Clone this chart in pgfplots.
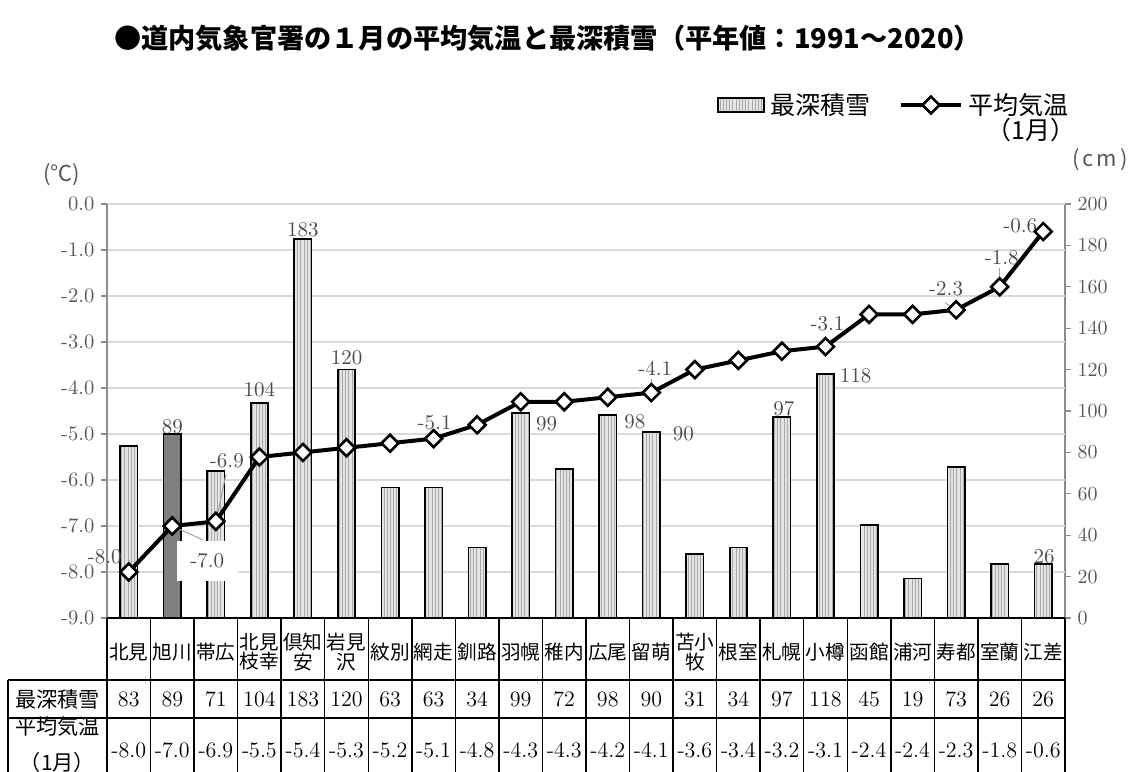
\documentclass[border=0pt]{standalone}
\usepackage{pgfplots}
\pgfplotsset{compat=1.18}
\usepackage{pgfplotstable}
\usetikzlibrary{patterns.meta}
\usepackage{fontspec}
\newfontfamily\jp{Noto Sans CJK JP}
\definecolor{gridc}{HTML}{D9D9D9}
\definecolor{axgray}{HTML}{8C8C8C}
\definecolor{txtgray}{HTML}{595959}
\definecolor{labgray}{HTML}{4D4D4D}
\definecolor{barfill}{HTML}{E4E4E4}
\definecolor{stripe}{HTML}{A8A8A8}
\definecolor{darkbar}{HTML}{7F7F7F}
\definecolor{leader}{HTML}{A0A0A0}

\pgfplotstableread{
x snow temp
0 83 -8.0
1 89 -7.0
2 71 -6.9
3 104 -5.5
4 183 -5.4
5 120 -5.3
6 63 -5.2
7 63 -5.1
8 34 -4.8
9 99 -4.3
10 72 -4.3
11 98 -4.2
12 90 -4.1
13 31 -3.6
14 34 -3.4
15 97 -3.2
16 118 -3.1
17 45 -2.4
18 19 -2.4
19 73 -2.3
20 26 -1.8
21 26 -0.6
}\data

\tikzset{
 barstyle/.style={preaction={fill=barfill}, pattern={Lines[angle=90,distance=1.6pt,line width=0.5pt]}, pattern color=stripe, draw=black, line width=0.8pt},
 lab/.style={font=\fontsize{10.5}{12}\selectfont, text=labgray, inner sep=0pt},
 ld/.style={draw=leader, line width=0.5pt},
}
\pgfplotsset{
 barlegend/.style={legend image code/.code={\draw[barstyle] (0pt,-3.5pt) rectangle (23pt,3.5pt);}},
 linelegend/.style={legend image code/.code={\draw[##1, mark repeat=2, mark phase=2] plot coordinates {(0pt,0pt)(15pt,0pt)(30pt,0pt)};}},
}

\begin{document}
\begin{tikzpicture}
\path[use as bounding box] (-53.5pt,-76.5pt) rectangle (511pt,309pt);
% ---------- snow depth (right axis) ----------
\begin{axis}[
 scale only axis, width=479pt, height=207pt,
 xmin=-0.5, xmax=21.5, ymin=0, ymax=200,
 hide x axis,
 axis y line*=right,
 y axis line style={draw=axgray, line width=0.6pt},
 ytick={0,20,...,200},
 tick align=outside, major tick length=2.8pt,
 ytick style={draw=axgray, line width=0.6pt},
 yticklabel style={font=\fontsize{10.3}{12}\selectfont, text=txtgray},
 extra y ticks={22.222,44.444,66.667,88.889,111.111,133.333,155.556,177.778,200},
 extra y tick labels={},
 extra y tick style={grid=major, major grid style={draw=gridc, line width=0.75pt}, major tick length=0pt},
 clip=false,
]
\addplot[ybar, bar width=0.4, bar shift=0pt, barstyle] table[x=x,y=snow]{\data};
\addplot[ybar, bar width=0.4, bar shift=0pt, fill=darkbar, draw=black, line width=0.8pt] coordinates {(1,89)};
\node[lab, yshift=3.5pt] at (axis cs:1,89) {89};
\node[lab, yshift=6.5pt] at (axis cs:3,104) {104};
\node[lab, yshift=4.5pt] at (axis cs:4,183) {183};
\node[lab, yshift=6pt] at (axis cs:5,120) {120};
\node[lab, xshift=13pt, yshift=-5.5pt] at (axis cs:9,99) {99};
\node[lab, xshift=13.5pt, yshift=-3.5pt] at (axis cs:11,98) {98};
\node[lab, xshift=16pt, yshift=-1pt] at (axis cs:12,90) {90};
\node[lab, xshift=1pt, yshift=4.5pt] at (axis cs:15,97) {97};
\node[lab, xshift=15pt, yshift=-1pt] at (axis cs:16,118) {118};
\node[lab, xshift=0.5pt, yshift=3.5pt] at (axis cs:21,26) {26};
\end{axis}
% ---------- temperature (left axis) ----------
\begin{axis}[
 scale only axis, width=479pt, height=207pt,
 xmin=-0.5, xmax=21.5, ymin=-9, ymax=0,
 hide x axis,
 axis y line*=left,
 y axis line style={draw=axgray, line width=0.6pt},
 ytick={-9,-8,-7,-6,-5,-4,-3,-2,-1,0},
 yticklabels={-9.0,-8.0,-7.0,-6.0,-5.0,-4.0,-3.0,-2.0,-1.0,0.0},
 tick align=outside, major tick length=2.8pt,
 ytick style={draw=axgray, line width=0.6pt},
 yticklabel style={font=\fontsize{10.3}{12}\selectfont, text=txtgray},
 clip=false,
 legend columns=2,
 legend style={at={(0.6367,1.239)}, anchor=west, draw=none, fill=none, inner sep=0pt,
   font=\jp\fontsize{12.5}{14}\selectfont,
   /tikz/every odd column/.append style={column sep=1pt},
   /tikz/every even column/.append style={column sep=12pt}},
]
\addlegendimage{barlegend}
\addlegendentry{最深積雪}
% leader lines
\draw[ld] (axis cs:1,-7.0) ++(3pt,-1.4pt) -- ++(12.5pt,-5.6pt);
\draw[ld] (axis cs:2,-6.9) ++(1pt,4pt) -- ++(4pt,19.5pt);
\draw[ld] (axis cs:12,-4.1) ++(0pt,2pt) -- ++(0pt,5pt);
\draw[ld] (axis cs:16,-3.1) ++(0pt,2pt) -- ++(0pt,3.5pt);
\draw[ld] (axis cs:19,-2.3) ++(-1pt,0.5pt) -- ++(-4.5pt,3pt);
\draw[ld] (axis cs:20,-1.8) ++(0pt,2pt) -- ++(0pt,7.5pt);
% white label box
\node[fill=white, minimum width=30.5pt, minimum height=20pt, inner sep=0pt,
      font=\fontsize{10.5}{12}\selectfont, text=labgray, xshift=17.5pt, yshift=-17.5pt] at (axis cs:1,-7.0) {-7.0};
\addplot[black, line width=2pt, mark=square*, mark size=3pt,
   mark options={rotate=45, fill=white, draw=black, line width=1.3pt, solid},
   linelegend]
   table[x=x,y=temp]{\data};
\addlegendentry{平均気温}
\node[lab, xshift=-12pt, yshift=7.5pt] at (axis cs:0,-8.0) {-8.0};
\node[lab, xshift=5.5pt, yshift=30.5pt] at (axis cs:2,-6.9) {-6.9};
\node[lab, xshift=0.5pt, yshift=7.8pt] at (axis cs:7,-5.1) {-5.1};
\node[lab, xshift=2pt, yshift=12.3pt] at (axis cs:12,-4.1) {-4.1};
\node[lab, xshift=1pt, yshift=11.3pt] at (axis cs:16,-3.1) {-3.1};
\node[lab, xshift=-5pt, yshift=10.5pt] at (axis cs:19,-2.3) {-2.3};
\node[lab, xshift=1pt, yshift=14.5pt] at (axis cs:20,-1.8) {-1.8};
\node[lab, xshift=-11.5pt, yshift=3pt] at (axis cs:21,-0.6) {-0.6};
\end{axis}
% ---------- titles ----------
\node[font=\jp\bfseries\fontsize{13.6}{16}\selectfont] at (220.25pt,290pt) {●道内気象官署の１月の平均気温と最深積雪（平年値：1991～2020）};
\node[font=\jp\fontsize{12.5}{14}\selectfont] at (462pt,244pt) {（1月）};
\node[font=\jp\fontsize{11}{13}\selectfont, text=txtgray] at (-22.5pt,221.5pt) {(℃)};
\node[font=\jp\fontsize{11}{13}\selectfont, text=txtgray] at (496.5pt,229pt) {(\kern1.5pt c\kern1.5pt m\kern1.5pt)};
% ---------- data table ----------
\pgfmathsetmacro\cw{479/22}
\foreach \k in {0,...,22} \draw[black, line width=0.7pt] ({\k*\cw pt},0pt) -- ({\k*\cw pt},-78pt);
\draw[black, line width=0.8pt] (0pt,0pt) -- (479pt,0pt);
\draw[black, line width=0.7pt] (-49.5pt,-31pt) -- (479pt,-31pt);
\draw[black, line width=0.7pt] (-49.5pt,-50pt) -- (479pt,-50pt);
\draw[black, line width=0.7pt] (-49.5pt,-31pt) -- (-49.5pt,-78pt);
\foreach \nm [count=\i from 0] in {北見,旭川,帯広,{北見\\枝幸},{倶知\\安},{岩見\\沢},紋別,網走,釧路,羽幌,稚内,広尾,留萌,{苫小\\牧},根室,札幌,小樽,函館,浦河,寿都,室蘭,江差}
  \node[font=\jp\fontsize{9.8}{9.6}\selectfont, align=center, inner sep=0pt] at ({(\i+0.5)*\cw pt},-17pt) {\nm};
\foreach \s/\t [count=\i from 0] in {83/-8.0,89/-7.0,71/-6.9,104/-5.5,183/-5.4,120/-5.3,63/-5.2,63/-5.1,34/-4.8,99/-4.3,72/-4.3,98/-4.2,90/-4.1,31/-3.6,34/-3.4,97/-3.2,118/-3.1,45/-2.4,19/-2.4,73/-2.3,26/-1.8,26/-0.6}{
  \node[font=\fontsize{11}{13}\selectfont, inner sep=0pt] at ({(\i+0.5)*\cw pt},-40.5pt) {\s};
  \node[font=\fontsize{11}{13}\selectfont, inner sep=0pt] at ({(\i+0.5)*\cw pt},-66pt) {\t};
}
\node[font=\jp\fontsize{10.6}{12}\selectfont] at (-24.75pt,-40.5pt) {最深積雪};
\node[font=\jp\fontsize{10.6}{12}\selectfont] at (-24.75pt,-54.5pt) {平均気温};
\node[font=\jp\fontsize{10.6}{12}\selectfont] at (-24.75pt,-72pt) {（1月）};
\end{tikzpicture}
\end{document}
